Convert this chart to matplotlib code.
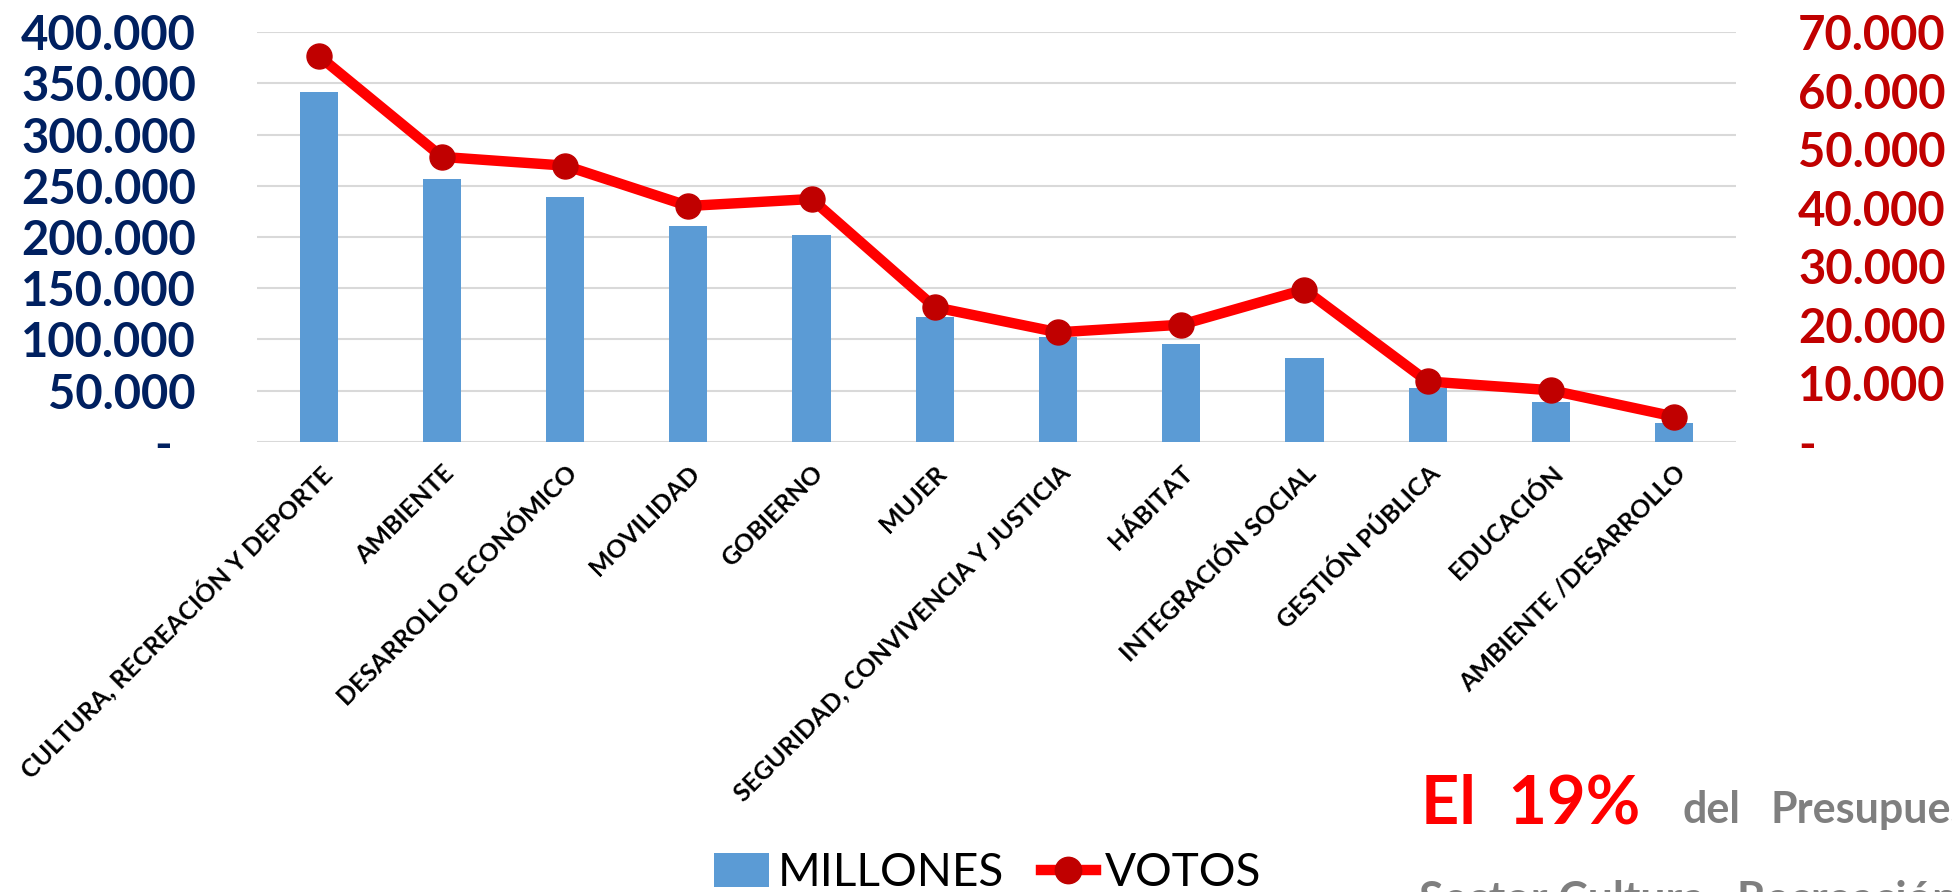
import matplotlib
matplotlib.use("Agg")
import matplotlib.pyplot as plt
from matplotlib.patches import Patch
from matplotlib.lines import Line2D

categories = ["CULTURA, RECREACIÓN Y DEPORTE", "AMBIENTE", "DESARROLLO ECONÓMICO",
              "MOVILIDAD", "GOBIERNO", "MUJER", "SEGURIDAD, CONVIVENCIA Y JUSTICIA",
              "HÁBITAT", "INTEGRACIÓN SOCIAL", "GESTIÓN PÚBLICA", "EDUCACIÓN",
              "AMBIENTE /DESARROLLO"]
millones = [341500, 256700, 239400, 210400, 201700, 121600, 102000, 95800, 81800, 52200, 38600, 18000]
votos = [66000, 48700, 47200, 40300, 41500, 23000, 18700, 20000, 26000, 10300, 8800, 4300]
left_ticks = [0, 50000, 100000, 150000, 200000, 250000, 300000, 350000, 400000]
left_labels = ["-  ", "50.000", "100.000", "150.000", "200.000", "250.000", "300.000", "350.000", "400.000"]
right_ticks = [0, 10000, 20000, 30000, 40000, 50000, 60000, 70000]
right_labels = ["-", "10.000", "20.000", "30.000", "40.000", "50.000", "60.000", "70.000"]

FONT = ["Lato", "DejaVu Sans"]
plt.rcParams['font.family'] = FONT

W, H = 1952, 892
fig = plt.figure(figsize=(W/100, H/100), dpi=100)
ax = fig.add_axes([257/W, 1-441.7/H, (1735.7-257)/W, (441.7-32.3)/H])
x = list(range(len(categories)))
ax.bar(x, millones, width=0.31, color="#5B9BD5", zorder=2)
ax.set_xlim(-0.5, len(categories)-0.5)
ax.set_ylim(0, 400000)
ax.set_yticks(left_ticks)
ax.set_yticklabels(left_labels, fontsize=34, fontweight="bold", color="#002060")
ax.tick_params(axis='y', length=0, pad=44)
ax.yaxis.grid(True, color="#D9D9D9", linewidth=1.5, zorder=0)
ax.set_axisbelow(True)
for s in ax.spines.values():
    s.set_visible(False)
ax.set_xticks(x)
ax.set_xticklabels(categories, rotation=45, ha='right', va='top', rotation_mode='anchor',
                   fontsize=18, fontweight='bold', color='black')
ax.tick_params(axis='x', length=0, pad=14)

ax2 = ax.twinx()
ax2.plot(x, votos, color="#FF0000", linewidth=7.5, marker='o', markersize=18,
         markerfacecolor="#C00000", markeredgecolor="#C00000", zorder=3)
ax2.set_ylim(0, 70000)
ax2.set_yticks(right_ticks)
ax2.set_yticklabels(right_labels, fontsize=34, fontweight="bold", color="#C00000")
ax2.tick_params(axis='y', length=0, pad=45)
for s in ax2.spines.values():
    s.set_visible(False)

handles = [Patch(facecolor="#5B9BD5", edgecolor="none"),
           Line2D([0], [0], color="#FF0000", linewidth=7.5, marker='o', markersize=19,
                  markerfacecolor="#C00000", markeredgecolor="#C00000")]
fig.legend(handles, ["MILLONES", "VOTOS"], loc='center', bbox_to_anchor=(0.506, 0.021),
           ncol=2, frameon=False, prop={'family': FONT, 'size': 33},
           handlelength=1.2, handleheight=0.75, handletextpad=0.2, columnspacing=0.8,
           borderpad=0, borderaxespad=0)

fig.text(1421/W, 1-823/H, "El  19%", fontsize=48, fontweight='bold', color="#FF0000",
         ha='left', va='baseline')
fig.text(1683/W, 1-823/H, "del", fontsize=31, fontweight='bold', color="#7F7F7F",
         ha='left', va='baseline')
fig.text(1770/W, 1-823/H, "Presupuesto", fontsize=31, fontweight='bold', color="#7F7F7F",
         ha='left', va='baseline')
fig.text(1419/W, 1-913/H, "Sector Cultura,  Recreación y Deporte", fontsize=32, fontweight='bold',
         color="#7F7F7F", ha='left', va='baseline')

fig.savefig("out.png", dpi=100)
